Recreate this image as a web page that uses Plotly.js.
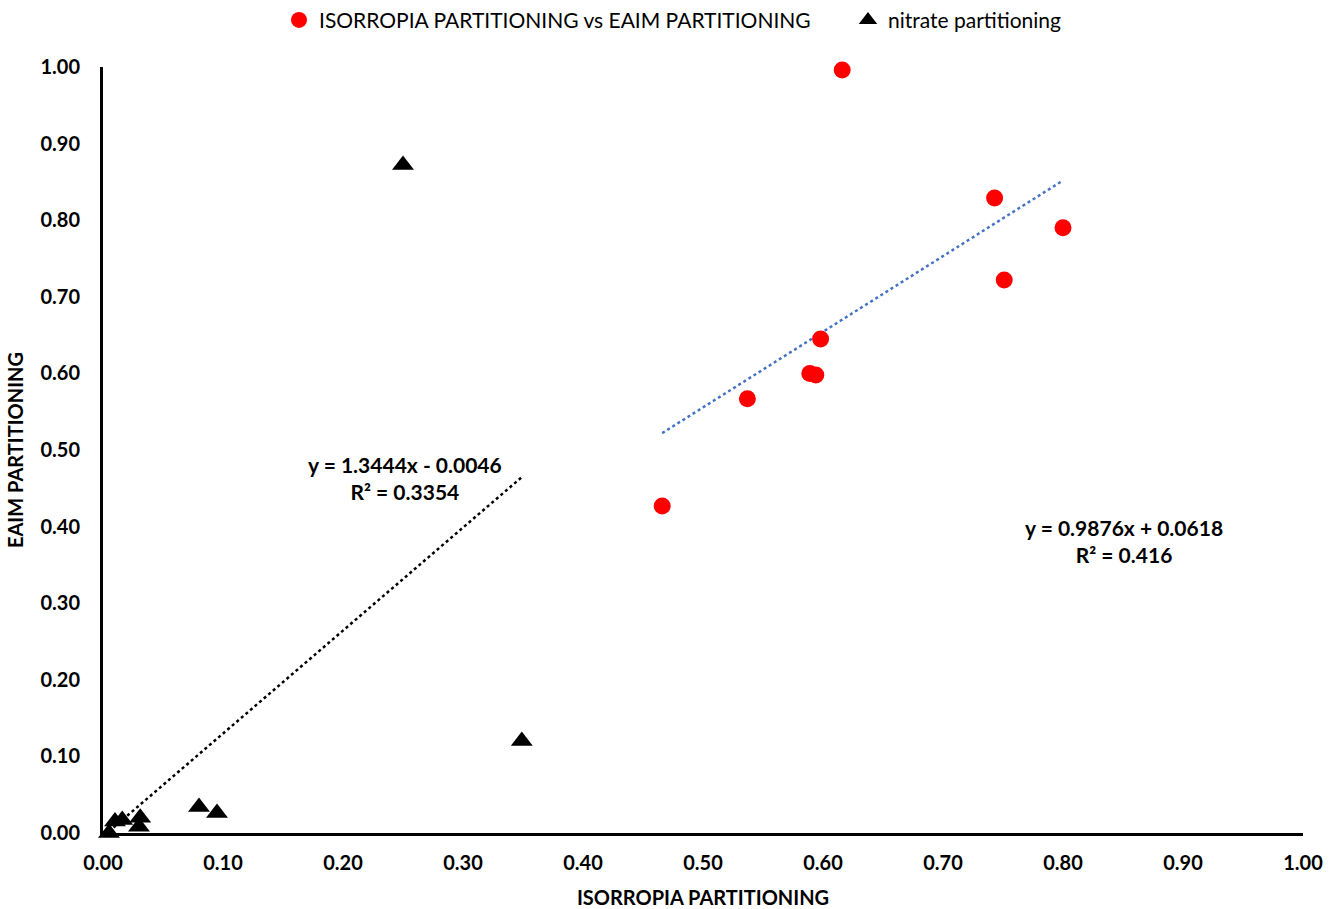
<!DOCTYPE html>
<html>
<head>
<meta charset="utf-8">
<script src="https://cdn.plot.ly/plotly-3.0.1.min.js"></script>
<style>html,body{margin:0;padding:0;background:#fff;}#chart{width:1329px;height:909px;}</style>
</head>
<body>
<div id="chart"></div>
<script>
// ISORROPIA vs EAIM partitioning (red circles)
const isoX = [0.616, 0.743, 0.800, 0.751, 0.598, 0.589, 0.594, 0.537, 0.466];
const eaimY = [0.996, 0.829, 0.790, 0.722, 0.645, 0.600, 0.598, 0.567, 0.427];
// nitrate partitioning (black triangles)
const nitX = [0.250, 0.349, 0.080, 0.095, 0.031, 0.030, 0.016, 0.010, 0.005];
const nitY = [0.872, 0.120, 0.034, 0.026, 0.020, 0.008, 0.017, 0.015, 0.000];
// Trendline coefficients (from the chart labels)
const isoFit = {slope: 0.9876, intercept: 0.0618, r2: 0.416};
const nitFit = {slope: 1.3444, intercept: -0.0046, r2: 0.3354};
const seriesNames = ["ISORROPIA PARTITIONING vs EAIM PARTITIONING", "nitrate partitioning"];
const tickVals = [0, 0.1, 0.2, 0.3, 0.4, 0.5, 0.6, 0.7, 0.8, 0.9, 1.0];

function fitLine(xs, f) {
  const x0 = Math.min(...xs), x1 = Math.max(...xs);
  return {x: [x0, x1], y: [f.slope * x0 + f.intercept, f.slope * x1 + f.intercept]};
}
const isoLine = fitLine(isoX, isoFit);
const nitLine = fitLine(nitX, nitFit);

const font = "Lato, 'Open Sans', sans-serif";

const traces = [
  {x: isoLine.x, y: isoLine.y, mode: 'lines', line: {color: '#4472C4', width: 2.5, dash: 'dot'}, showlegend: false, hoverinfo: 'skip'},
  {x: nitLine.x, y: nitLine.y, mode: 'lines', line: {color: '#000000', width: 2.5, dash: 'dot'}, showlegend: false, hoverinfo: 'skip'},
  {x: isoX, y: eaimY, mode: 'markers', name: seriesNames[0] + '&nbsp;&nbsp;&nbsp;&nbsp;&nbsp;&nbsp;', cliponaxis: false,
   marker: {symbol: 'circle', size: 17, color: '#FF0000'}},
  {x: nitX, y: nitY, mode: 'markers', name: seriesNames[1], cliponaxis: false,
   marker: {symbol: 'triangle-up', size: 19, color: '#000000'}}
];

function fmtEq(f) {
  const sign = f.intercept < 0 ? ' - ' : ' + ';
  return 'y = ' + f.slope.toFixed(4) + 'x' + sign + Math.abs(f.intercept).toFixed(4) + '<br>R² = ' + f.r2;
}

const layout = {
  width: 1329, height: 909,
  margin: {l: 103, r: 26, t: 67, b: 76, autoexpand: false},
  paper_bgcolor: '#fff', plot_bgcolor: '#fff',
  font: {family: font, color: '#000', size: 20},
  showlegend: true,
  legend: {orientation: 'h', x: 0.475, xanchor: 'center', y: 1.061, yanchor: 'middle', yref: 'paper',
           font: {family: font, size: 21, color: '#000'}, itemwidth: 30, tracegroupgap: 0},
  xaxis: {
    range: [0, 1], tickvals: tickVals, tickformat: '.2f', showgrid: false, zeroline: false,
    showline: true, linecolor: '#000', linewidth: 3, ticks: '', ticklen: 0, ticklabelstandoff: 10,
    tickfont: {family: font, size: 20, color: '#000', weight: 'bold'},
    title: {text: '<b>ISORROPIA PARTITIONING</b>', font: {family: font, size: 20, color: '#000'}, standoff: 19}
  },
  yaxis: {
    range: [0, 1], tickvals: tickVals, tickformat: '.2f', showgrid: false, zeroline: false,
    showline: true, linecolor: '#000', linewidth: 3, ticks: '', ticklen: 0, ticklabelstandoff: 16,
    tickfont: {family: font, size: 20, color: '#000', weight: 'bold'},
    title: {text: '<b>EAIM PARTITIONING</b>', font: {family: font, size: 20, color: '#000'}, standoff: 12}
  },
  annotations: [
    {x: 0.252, y: 0.463, xref: 'x', yref: 'y', text: '<b>' + fmtEq(nitFit) + '</b>', showarrow: false,
     font: {family: font, size: 21, color: '#000'}, align: 'center'},
    {x: 0.851, y: 0.381, xref: 'x', yref: 'y', text: '<b>' + fmtEq(isoFit) + '</b>', showarrow: false,
     font: {family: font, size: 21, color: '#000'}, align: 'center'}
  ]
};

Plotly.newPlot('chart', traces, layout, {displayModeBar: false, responsive: false});
</script>
</body>
</html>
